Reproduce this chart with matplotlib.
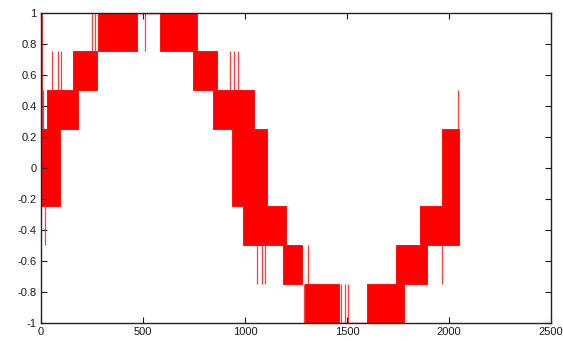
import matplotlib
matplotlib.use("Agg")
import matplotlib.pyplot as plt

# Switching bands: within each band the signal toggles between low and high levels
band_start = [0, 31, 159, 281, 584, 745, 843, 936, 990, 1186, 1296, 1596, 1738, 1857, 1967]
band_end = [93, 183, 273, 469, 764, 862, 1042, 1108, 1203, 1280, 1460, 1779, 1890, 1967, 2049]
band_low = [-0.25, 0.25, 0.5, 0.75, 0.75, 0.5, 0.25, -0.25, -0.5, -0.75, -1, -1, -0.75, -0.5, -0.5]
band_high = [0.25, 0.5, 0.75, 1, 1, 0.75, 0.5, 0.25, -0.25, -0.5, -0.75, -0.75, -0.5, -0.25, 0.25]

# Isolated switching spikes (sample index, low, high)
spike_x = [3, 12, 20, 55, 85, 100, 250, 265, 460, 510, 770, 925, 945, 965, 1040,
           1060, 1085, 1100, 1290, 1310, 1470, 1490, 1505, 1880, 1967, 2044]
spike_lo = [-0.25, 0.25, -0.5, 0.5, 0.5, 0.5, 0.75, 0.75, 0.75, 0.75, 0.5, 0.5, 0.5, 0.5, 0.25,
            -0.75, -0.75, -0.75, -1, -0.75, -1, -1, -1, -0.75, -0.75, 0.25]
spike_hi = [1, 0.5, -0.25, 0.75, 0.75, 0.75, 1, 1, 1, 1, 0.75, 0.75, 0.75, 0.75, 0.5,
            -0.5, -0.5, -0.5, -0.75, -0.5, -0.75, -0.75, -0.75, -0.5, -0.5, 0.5]

# Segments where the signal holds at a level
hold_start = [469, 1460]
hold_end = [584, 1596]
hold_level = [1, -1]

x_ticks = [0, 500, 1000, 1500, 2000, 2500]
y_ticks = [-1, -0.8, -0.6, -0.4, -0.2, 0, 0.2, 0.4, 0.6, 0.8, 1]
y_tick_labels = ["-1", "-0.8", "-0.6", "-0.4", "-0.2", "0", "0.2", "0.4", "0.6", "0.8", "1"]

plt.rcParams["font.family"] = ["Liberation Sans", "DejaVu Sans"]
plt.rcParams["axes.unicode_minus"] = False

fig = plt.figure(figsize=(5.63, 3.41), dpi=100)
ax = fig.add_axes([0.0728, 0.0537, 0.9059, 0.9091])

red = "#ff0000"
for s, e, lo, hi in zip(band_start, band_end, band_low, band_high):
    ax.fill_between([s, e], [lo, lo], [hi, hi], color=red, linewidth=0.6,
                    edgecolor=red)

ax.vlines(spike_x, spike_lo, spike_hi, color=red, linewidth=0.9, alpha=0.75)
ax.hlines(hold_level, hold_start, hold_end, color=red, linewidth=1.0)

ax.set_xlim(0, 2500)
ax.set_ylim(-1, 1)
ax.set_xticks(x_ticks)
ax.set_xticklabels([str(v) for v in x_ticks])
ax.set_yticks(y_ticks)
ax.set_yticklabels(y_tick_labels)
ax.tick_params(direction="in", length=4, width=0.8, top=True, right=True,
               labelsize=8, pad=3, colors="#1a1a1a")
for sp in ax.spines.values():
    sp.set_linewidth(1.0)
    sp.set_color("#222222")

fig.savefig("out.png", dpi=100)
